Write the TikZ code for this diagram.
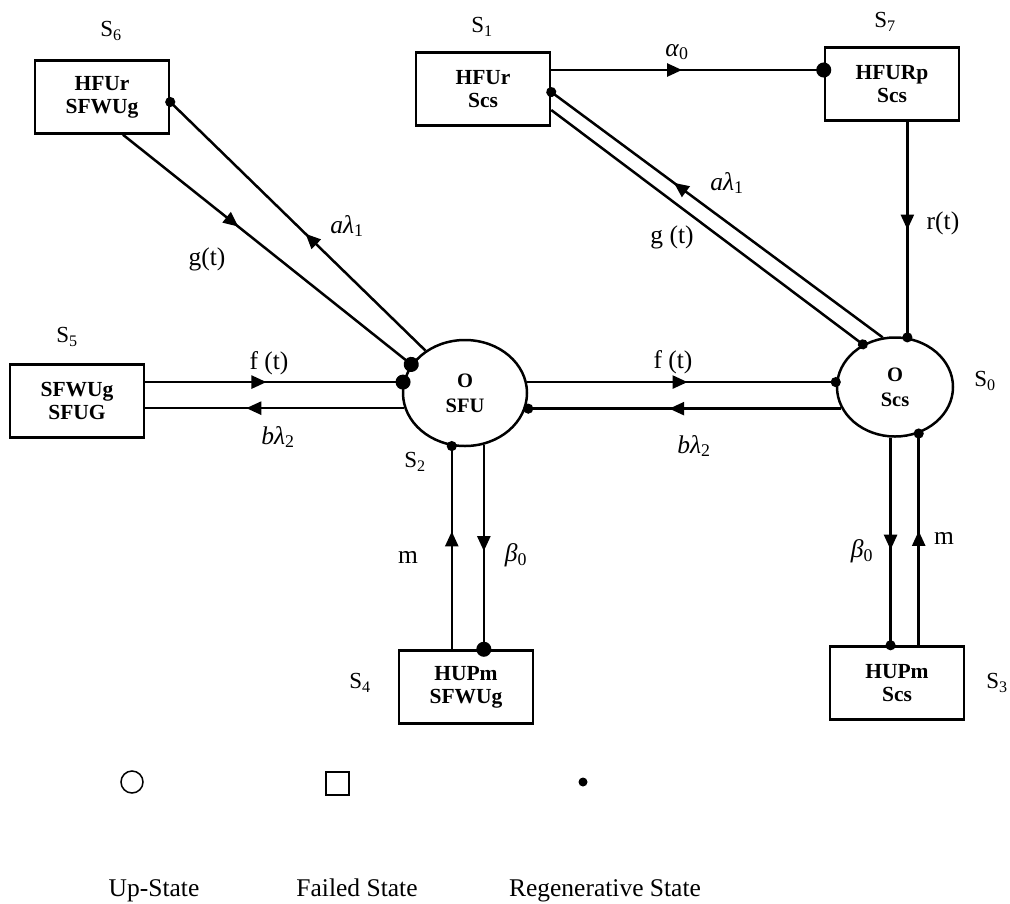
\documentclass[tikz,border=0pt]{standalone}
\usepackage{fontspec}
\setmainfont{Liberation Serif}
\usetikzlibrary{shapes.geometric, arrows.meta, decorations.markings}

\begin{document}
\begin{tikzpicture}[x = 1pt, y = -1pt, line width = 2.5pt, every node/.style = {inner sep = 0pt}, failstate/.style = {draw, rectangle, minimum width = 134pt, minimum height = 73pt, align = center, font = \fontsize{21.5}{23}\selectfont\bfseries}, upstate/.style = {draw, ellipse, align = center, font = \fontsize{20.5}{25}\selectfont\bfseries}, statename/.style = {font = \fontsize{23}{26}\selectfont}, ratelabel/.style = {font = \fontsize{25.5}{28}\selectfont}, flow/.style = {postaction = {decorate}, decoration = {markings, mark = at position #1 with {\arrow{Triangle[length = 15pt, width = 13pt]}}}}, smalldot/.style = {-{Circle[length = 10pt]}, shorten > = -5pt}, bigdot/.style = {-{Circle[length = 15pt]}, shorten > = -7.5pt}]
        \useasboundingbox (0, 0) rectangle (1010, 903);
        \node[failstate] (S6) at (102, 97) {HFUr\\SFWUg};
        \node[failstate] (S1) at (483, 89) {HFUr\\Scs};
        \node[failstate] (S7) at (892, 84) {HFURp\\Scs};
        \node[failstate] (S5) at (77, 401) {SFWUg\\SFUG};
        \node[failstate] (S4) at (466, 687) {HUPm\\SFWUg};
        \node[failstate] (S3) at (897, 683) {HUPm\\Scs};
        \node[upstate, minimum width = 124pt, minimum height = 106pt] (S2) at (465, 393) {O\\SFU};
        \node[upstate, minimum width = 116pt, minimum height = 99pt] (S0) at (895, 387) {O\\Scs};
        \node[statename] (N6) at (111, 31) {S\textsubscript{6}};
        \node[statename] (N1) at (482, 27) {S\textsubscript{1}};
        \node[statename] (N7) at (885, 22) {S\textsubscript{7}};
        \node[statename] (N5) at (67, 337) {S\textsubscript{5}};
        \node[statename] (N2) at (415, 462) {S\textsubscript{2}};
        \node[statename] (N0) at (985, 381) {S\textsubscript{0}};
        \node[statename] (N4) at (360, 683) {S\textsubscript{4}};
        \node[statename] (N3) at (997, 683) {S\textsubscript{3}};
        \draw[flow = 0.4, bigdot] ([xshift = 21pt]S6.south) -- (S2.152);
        \draw[flow = 0.47, smalldot] (S2.133) -- ([yshift = -5pt]S6.east);
        \draw[flow = 0.48, bigdot] ([yshift = 19pt]S1.east) -- ([yshift = 19pt]S1.east -| S7.west);
        \draw[flow = 0.5, smalldot] (S0.76 |- S7.south) -- (S0.76);
        \draw[flow = 0.63, smalldot] (S0.104) -- ([yshift = -3pt]S1.east);
        \draw[smalldot] ([yshift = -21pt]S1.east) -- (S0.127);
        \draw[flow = 0.47, bigdot] (S5.east |- S2.170) -- (S2.170);
        \draw[flow = 0.61] (S2.194) -- (S5.east |- S2.194);
        \draw[flow = 0.52, smalldot] (S2.10) -- (S2.10 -| S0.west);
        \draw[flow = 0.55, smalldot] (S0.202) -- (S0.202 -| S2.east);
        \draw[flow = 0.52, bigdot] (S2.290) -- (S2.290 |- S4.north);
        \draw[flow = 0.58, smalldot] (S2.256 |- S4.north) -- (S2.256);
        \draw[flow = 0.54, smalldot] (S0.265) -- (S0.265 |- S3.north);
        \draw[flow = 0.54, smalldot] (S0.297 |- S3.north) -- (S0.297);
        \node[ratelabel] (gLeft) at (207, 259) {g(t)};
        \node[ratelabel] (aLeft) at (347, 226) {\textit{aλ}\textsubscript{1}};
        \node[ratelabel] (alphaTop) at (677, 52) {\textit{α}\textsubscript{0}};
        \node[ratelabel] (aRight) at (727, 183) {\textit{aλ}\textsubscript{1}};
        \node[ratelabel] (gRight) at (672, 237) {g (t)};
        \node[ratelabel] (rRight) at (943, 223) {r(t)};
        \node[ratelabel] (fLeft) at (269, 363) {f (t)};
        \node[ratelabel] (bLeft) at (278, 437) {\textit{bλ}\textsubscript{2}};
        \node[ratelabel] (fRight) at (673, 362) {f (t)};
        \node[ratelabel] (bRight) at (694, 446) {\textit{bλ}\textsubscript{2}};
        \node[ratelabel] (mLeft) at (408, 557) {m};
        \node[ratelabel] (betaLeft) at (516, 555) {\textit{β}\textsubscript{0}};
        \node[ratelabel] (betaRight) at (862, 551) {\textit{β}\textsubscript{0}};
        \node[ratelabel] (mRight) at (944, 538) {m};
        \node[draw, circle, line width = 1.5pt, minimum size = 22pt] (LegUp) at (132, 782) {};
        \node[draw, rectangle, line width = 2pt, minimum size = 23pt] (LegFail) at (337, 783) {};
        \node[fill, circle, minimum size = 9pt] (LegReg) at (583, 782) {};
        \node[ratelabel, anchor = base] (TxtUp) at (154, 896) {Up-State};
        \node[ratelabel, anchor = base] (TxtFail) at (357, 896) {Failed State};
        \node[ratelabel, anchor = base] (TxtReg) at (605, 896) {Regenerative State};
    \end{tikzpicture}
\end{document}
